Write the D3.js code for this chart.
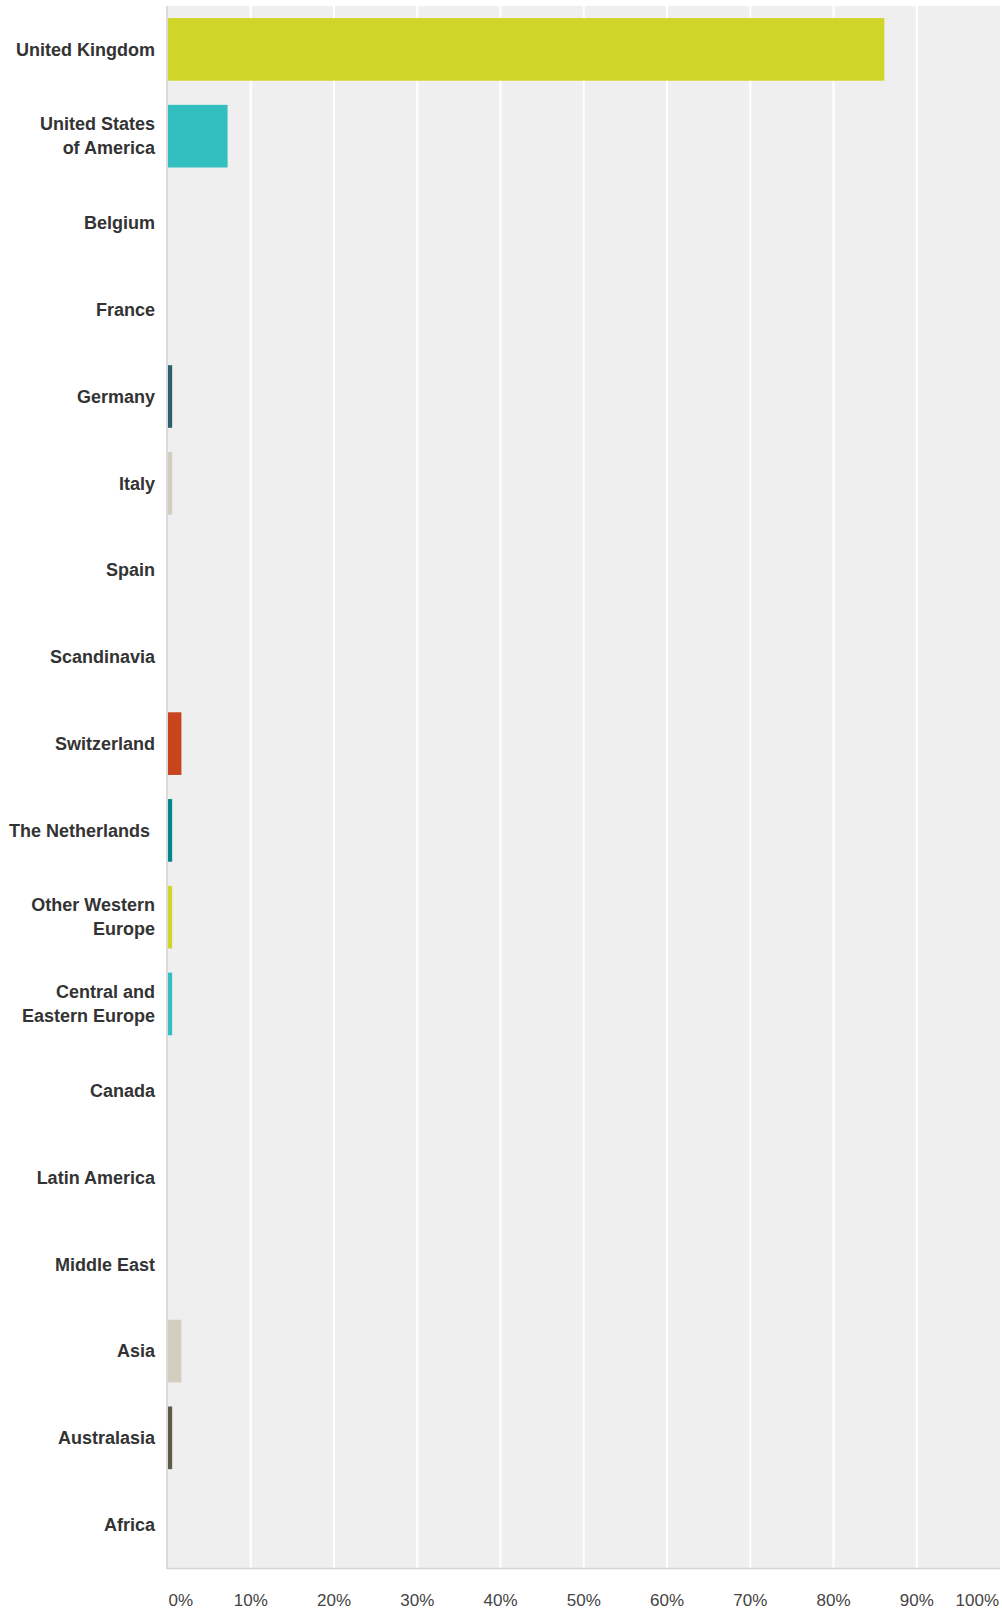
<!DOCTYPE html>
<html>
<head>
<meta charset="utf-8">
<script src="https://cdn.jsdelivr.net/npm/d3@7"></script>
<style>
  html, body { margin: 0; padding: 0; background: #fff; }
  svg { display: block; }
</style>
</head>
<body>
<div id="chart"></div>
<script>
const categories = [
  "United Kingdom", "United States\nof America", "Belgium", "France", "Germany", "Italy",
  "Spain", "Scandinavia", "Switzerland", "The Netherlands\u00a0", "Other Western\nEurope",
  "Central and\nEastern Europe", "Canada", "Latin America", "Middle East", "Asia",
  "Australasia", "Africa"
];
const values = [86.11, 7.22, 0, 0, 0.56, 0.56, 0, 0, 1.67, 0.56, 0.56, 0.56, 0, 0, 0, 1.67, 0.56, 0];
const colors = [
  "#d0d52a", "#33bec0", "#d0d52a", "#33bec0", "#2f5e6e", "#d2cfc0",
  "#5f5b4a", "#d0d52a", "#c8441c", "#00888a", "#d0d52a",
  "#33bec0", "#d0d52a", "#33bec0", "#2f5e6e", "#d2cfc0",
  "#5f5b4a", "#d0d52a"
];
const tickValues = [0, 10, 20, 30, 40, 50, 60, 70, 80, 90, 100];
const tickLabels = ["0%", "10%", "20%", "30%", "40%", "50%", "60%", "70%", "80%", "90%", "100%"];

(function () {
const W = 1002, H = 1612;
const pLeft = 167.5, pRight = 1000, pTop = 6, pBottom = 1568;

const svg = d3.select("#chart").append("svg").attr("width", W).attr("height", H);

const x = d3.scaleLinear().domain([0, 100]).range([pLeft, pRight]);
const y = d3.scaleBand().domain(d3.range(categories.length)).range([pTop, pBottom]).paddingInner(0.278).paddingOuter(0.139);

// plot background
svg.append("rect").attr("x", pLeft).attr("y", pTop).attr("width", pRight - pLeft).attr("height", pBottom - pTop).attr("fill", "#efefef");

// gridlines
svg.append("g").selectAll("line").data(tickValues.filter(t => t > 0 && t < 100)).join("line")
  .attr("x1", d => x(d)).attr("x2", d => x(d))
  .attr("y1", pTop).attr("y2", pBottom)
  .attr("stroke", "#ffffff").attr("stroke-width", 2);

// bars
svg.append("g").selectAll("rect").data(values).join("rect")
  .attr("x", x(0) + 0.5)
  .attr("y", (d, i) => y(i))
  .attr("width", d => Math.max(0, x(d) - x(0) - 0.5))
  .attr("height", y.bandwidth())
  .attr("fill", (d, i) => colors[i]);

// axis lines
svg.append("line").attr("x1", pLeft - 0.5).attr("x2", pLeft - 0.5).attr("y1", pTop).attr("y2", pBottom + 1)
  .attr("stroke", "#d0d0d0").attr("stroke-width", 1.5);
svg.append("line").attr("x1", pLeft - 1).attr("x2", pRight).attr("y1", pBottom + 0.5).attr("y2", pBottom + 0.5)
  .attr("stroke", "#d6d6d6").attr("stroke-width", 1.5);

// category labels
const lab = svg.append("g").attr("font-family", "'Liberation Sans', Arial, Helvetica, sans-serif")
  .attr("font-size", 18).attr("font-weight", "bold").attr("fill", "#333333").attr("text-anchor", "end");
categories.forEach((c, i) => {
  const lines = c.split("\n");
  const cy = y(i) + y.bandwidth() / 2;
  const lh = 24;
  const t = lab.append("text").attr("y", cy - (lines.length - 1) * lh / 2);
  lines.forEach((l, k) => {
    t.append("tspan").attr("x", 155).attr("dy", k === 0 ? "0.35em" : lh).text(l);
  });
});

// tick labels
svg.append("g").attr("font-family", "'Liberation Sans', Arial, Helvetica, sans-serif")
  .attr("font-size", 17).attr("fill", "#444444")
  .selectAll("text").data(tickValues).join("text")
  .attr("x", (d, i) => i === 0 ? x(d) + 1 : (i === tickValues.length - 1 ? x(d) - 1 : x(d)))
  .attr("y", 1606)
  .attr("text-anchor", (d, i) => i === 0 ? "start" : (i === tickValues.length - 1 ? "end" : "middle"))
  .text((d, i) => tickLabels[i]);
})();
</script>
</body>
</html>
